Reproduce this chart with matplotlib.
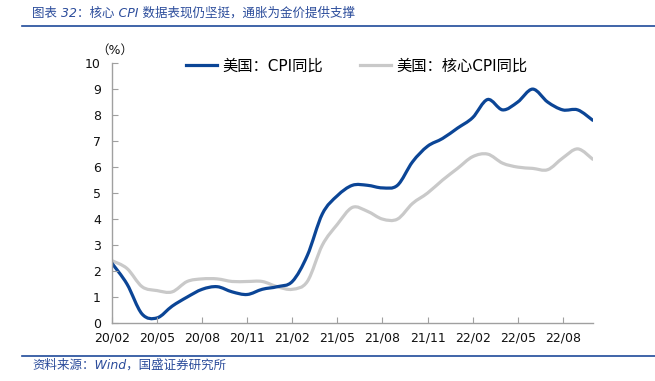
import matplotlib
matplotlib.use("Agg")
import matplotlib.pyplot as plt
from matplotlib.path import Path
from matplotlib.patches import PathPatch
from matplotlib.lines import Line2D
import numpy as np

plt.rcParams['font.family'] = ['DejaVu Sans', 'Noto Sans CJK SC']

months = ['20/02','20/03','20/04','20/05','20/06','20/07','20/08','20/09','20/10','20/11','20/12',
          '21/01','21/02','21/03','21/04','21/05','21/06','21/07','21/08','21/09','21/10','21/11','21/12',
          '22/01','22/02','22/03','22/04','22/05','22/06','22/07','22/08','22/09','22/10']
cpi = [2.3, 1.5, 0.35, 0.2, 0.65, 1.0, 1.3, 1.4, 1.2, 1.1, 1.3,
       1.4, 1.6, 2.6, 4.2, 4.9, 5.3, 5.3, 5.2, 5.3, 6.2, 6.8, 7.1,
       7.5, 7.9, 8.6, 8.2, 8.5, 9.0, 8.5, 8.2, 8.2, 7.8]
core = [2.4, 2.1, 1.4, 1.25, 1.2, 1.6, 1.7, 1.7, 1.6, 1.6, 1.6,
        1.4, 1.3, 1.6, 3.0, 3.8, 4.45, 4.3, 4.0, 4.0, 4.6, 5.0, 5.5,
        5.95, 6.4, 6.5, 6.15, 6.0, 5.95, 5.9, 6.35, 6.7, 6.3]
tick_labels = ['20/02','20/05','20/08','20/11','21/02','21/05','21/08','21/11','22/02','22/05','22/08']
yticks = [0, 1, 2, 3, 4, 5, 6, 7, 8, 9, 10]

label_cpi = '美国：CPI同比'
label_core = '美国：核心CPI同比'
title = '图表 32：核心 CPI 数据表现仍坚挺，通胀为金价提供支撑'
source = '资料来源：Wind，国盛证券研究所'

blue = '#0B4596'
gray = '#C9C9C9'
text_blue = '#2B4C9B'

fig = plt.figure(figsize=(6.55, 3.81), dpi=100)
ax = fig.add_axes([0.171, 0.152, 0.734, 0.6824])

x = np.array([months.index(m) for m in months], dtype=float)


def smooth_path(xs, ys):
    pts = np.column_stack([xs, ys])
    n = len(pts)
    verts = [pts[0]]
    codes = [Path.MOVETO]
    for i in range(n - 1):
        p0 = pts[i - 1] if i > 0 else pts[i]
        p1 = pts[i]
        p2 = pts[i + 1]
        p3 = pts[i + 2] if i + 2 < n else pts[i + 1]
        c1 = p1 + (p2 - p0) / 6.0
        c2 = p2 - (p3 - p1) / 6.0
        verts += [c1, c2, p2]
        codes += [Path.CURVE4] * 3
    return Path(verts, codes)


for ys, col in [(core, gray), (cpi, blue)]:
    patch = PathPatch(smooth_path(x, np.array(ys)), facecolor='none', edgecolor=col,
                      lw=2.3, capstyle='round', joinstyle='round', transform=ax.transData)
    ax.add_patch(patch)

ax.set_xlim(0, len(months) - 1)
ax.set_ylim(0, 10)
ax.set_yticks(yticks)
ax.set_xticks([months.index(t) for t in tick_labels])
ax.set_xticklabels(tick_labels)
ax.tick_params(axis='both', direction='in', length=4, color='#A0A0A0', labelsize=9, labelcolor='#111111')
ax.tick_params(axis='y', pad=8)
ax.tick_params(axis='x', pad=6)
for s in ['top', 'right']:
    ax.spines[s].set_visible(False)
for s in ['left', 'bottom']:
    ax.spines[s].set_color('#A0A0A0')
    ax.spines[s].set_linewidth(1.0)

ax.text(0.005, 1.05, '（%）', transform=ax.transAxes, ha='center', va='center', fontsize=9, color='#111111')

handles = [Line2D([], [], color=blue, lw=2.3), Line2D([], [], color=gray, lw=2.3)]
ax.legend(handles, [label_cpi, label_core], loc='center left', bbox_to_anchor=(0.154, 0.988),
          ncol=2, frameon=False, fontsize=11, handlelength=2.05, handletextpad=0.33,
          columnspacing=2.4, borderpad=0, borderaxespad=0)

fig.text(0.049, 0.965, title, ha='left', va='center', fontsize=9, style='italic', color=text_blue)
fig.add_artist(Line2D([0.034, 1.0], [0.932, 0.932], transform=fig.transFigure, color='#1F4A9A', lw=1.2))
fig.add_artist(Line2D([0.034, 1.0], [0.066, 0.066], transform=fig.transFigure, color='#1F4A9A', lw=1.2))
fig.text(0.049, 0.042, source, ha='left', va='center', fontsize=9, style='italic', color=text_blue)

fig.savefig('out.png', dpi=100)
